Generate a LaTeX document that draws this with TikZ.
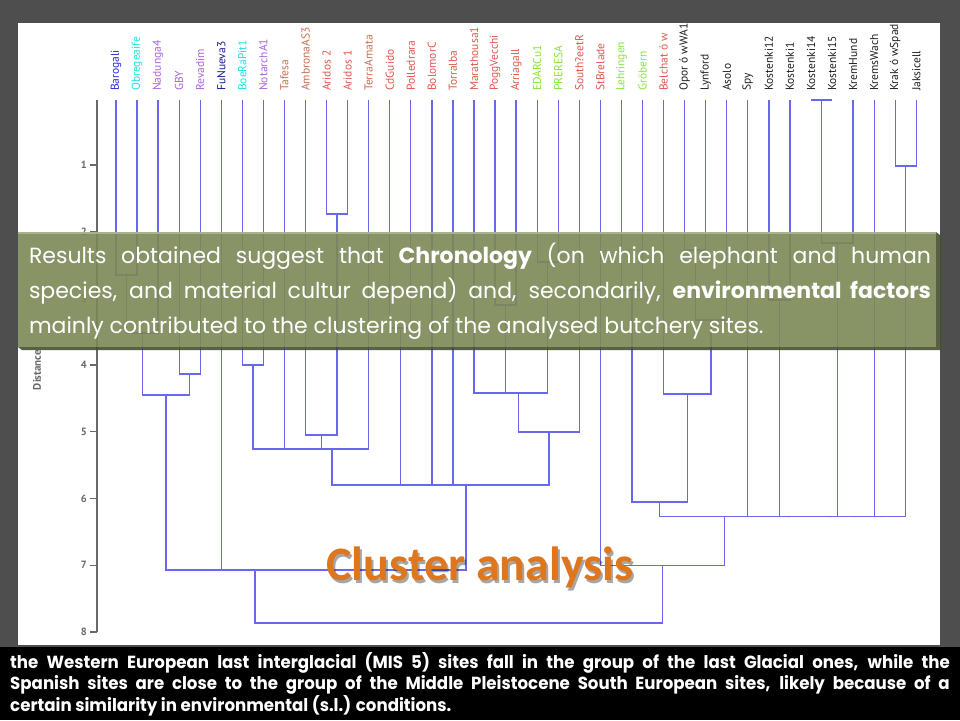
\documentclass[tikz,border=0pt]{standalone}
\usepackage{fontspec}
\usetikzlibrary{calc}
\setmainfont{Poppins}
\newfontfamily\labelfont{PT Sans}
\newfontfamily\titlefont{Carlito}

\definecolor{slidegrey}{RGB}{78,78,78}
\definecolor{axisgrey}{RGB}{105,105,105}
\definecolor{linkblue}{RGB}{104,104,238}
\definecolor{boxgreen}{RGB}{124,137,86}
\definecolor{boxlight}{RGB}{170,178,140}
\definecolor{boxshade}{RGB}{70,78,48}
\definecolor{titleorange}{RGB}{222,118,30}
\definecolor{lblblue}{RGB}{40,40,225}
\definecolor{lblnavy}{RGB}{25,25,150}
\definecolor{lblcyan}{RGB}{30,225,230}
\definecolor{lblpurple}{RGB}{170,100,225}
\definecolor{lblbrown}{RGB}{200,112,82}
\definecolor{lblred}{RGB}{222,88,78}
\definecolor{lblgreen}{RGB}{135,228,60}
\definecolor{lblblack}{RGB}{30,30,30}

\tikzset{
  link/.style={draw=linkblue, line width=1.3pt, line join=miter},
  sitelabel/.style={rotate=90, anchor=west, inner sep=0pt, font=\labelfont\fontsize{11.5}{11.5}\selectfont},
  tickmark/.style={draw=axisgrey, line width=1.3pt},
  ticklabel/.style={anchor=east, inner sep=0pt, text=axisgrey, font=\labelfont\bfseries\fontsize{10.5}{10.5}\selectfont},
}

% one merge of the dendrogram: name, left child, right child, height
\newcommand{\clade}[4]{%
  \draw[link] (#2) -- (#2 |- 0,#4) -- (#3 |- 0,#4) -- (#3);
  \coordinate (#1) at ($(#2 |- 0,#4)!0.5!(#3 |- 0,#4)$);
}

\begin{document}
\begin{tikzpicture}[x=1pt, y=-1pt]

  \useasboundingbox (0,0) rectangle (960,720);

  % Slide:
  \fill[slidegrey] (0,0) rectangle (960,720);
  \fill[white]     (18,23) rectangle (940,645);

  % Site labels and leaves:
  \foreach \site/\col [count=\i from 0] in {
      Barogali/lblblue, Obregeaife/lblcyan, Nadunga4/lblpurple, GBY/lblpurple,
      Revadim/lblpurple, FuNueva3/lblnavy, BoeRaPit1/lblcyan, NotarchA1/lblpurple,
      Tafesa/lblbrown, AmbronaAS3/lblbrown, Aridos 2/lblred, Aridos 1/lblred,
      TerraAmata/lblbrown, CdGuido/lblred, Polledrara/lblred, BolomorC/lblred,
      Torralba/lblred, Marathousa1/lblred, PoggVecchi/lblred, Arriagall/lblred,
      EDARCu1/lblgreen, PRERESA/lblgreen, South?eetR/lblred, StBrelade/lblred,
      Lehringen/lblgreen, Gröbern/lblgreen, Belchat ó w/lblred, Opor ó wWA1/lblblack,
      Lynford/lblblack, Asolo/lblblack, Spy/lblblack, Kostenki12/lblblack,
      Kostenki1/lblblack, Kostenki14/lblblack, Kostenki15/lblblack, KremHund/lblblack,
      KremsWach/lblblack, Krak ó wSpad/lblblack, Jaksicell/lblblack}
  {
    \coordinate (s\i) at ({116+21.06*\i},100);
    \node[sitelabel, text=\col] (n\i) at ({116+21.06*\i},91) {\site};
  }

  % Axis:
  \draw[tickmark] (97,100) -- (97,632);
  \foreach \d in {1,...,8} {
    \draw[tickmark] (90,{98.3+66.7*\d}) -- (97,{98.3+66.7*\d});
    \node[ticklabel] (t\d) at (87,{98.3+66.7*\d}) {\d};
  }
  \node[rotate=90, text=axisgrey, font=\labelfont\bfseries\fontsize{11}{11}\selectfont] (dist) at (37,370) {Distance};

  % Left cluster
  \clade{a}{s0}{s1}{275}
  \clade{b}{a}{s2}{333}
  \clade{c}{s3}{s4}{374}
  \clade{bc}{b}{c}{395}
  \clade{e}{s6}{s7}{365}
  \clade{f}{s10}{s11}{214}
  \clade{g}{s9}{f}{435}
  \clade{h1}{e}{s8}{449}
  \clade{h2}{h1}{g}{449}
  \clade{h}{h2}{s12}{449}
  \clade{i}{s13}{s14}{328}
  \clade{j}{s18}{s19}{305}
  \clade{k}{s20}{s21}{262}
  \clade{m1}{s17}{j}{393}
  \clade{m}{m1}{k}{393}
  \clade{nn}{m}{s22}{432}
  \clade{o1}{i}{s15}{485}
  \clade{o2}{o1}{s16}{485}
  \clade{o3}{h}{o2}{485}
  \clade{o}{o3}{nn}{485}
  \clade{p1}{s5}{o}{570}
  \clade{p}{bc}{p1}{570}

  % Right cluster
  \clade{q}{s24}{s25}{290}
  \clade{r}{s27}{s28}{250}
  \clade{r2}{r}{s29}{320}
  \clade{t}{s26}{r2}{394}
  \clade{u}{q}{t}{502}
  \clade{v}{s31}{s32}{300}
  \clade{w}{s33}{s34}{100}
  \clade{x}{w}{s35}{243}
  \clade{y}{s37}{s38}{166}
  \clade{z1}{x}{s36}{516.7}
  \clade{z2}{z1}{y}{516.7}
  \clade{z3}{v}{z2}{516.7}
  \clade{z4}{s30}{z3}{516.7}
  \clade{z}{u}{z4}{516.7}
  \clade{aa}{s23}{z}{565.7}

  % Root
  \clade{root}{p}{aa}{623}

  % Title
  \node[text=black, opacity=0.35, font=\titlefont\bfseries\fontsize{48}{48}\selectfont] at (482,570) {Cluster analysis};
  \node[text=titleorange, font=\titlefont\bfseries\fontsize{48}{48}\selectfont] (title) at (480,567) {Cluster analysis};

  % Green box
  \fill[boxgreen, fill opacity=0.9] (18,232) rectangle (936,347);
  \fill[boxshade, fill opacity=0.9] (936,232) -- (941,236) -- (941,350) -- (22,350) -- (18,347) -- (936,347) -- cycle;
  \draw[boxlight, line width=1.5pt] (18,233) -- (936,233);
  \node[text=white, text width=902pt, align=justify, inner sep=0pt,
        font=\fontsize{22}{35}\selectfont] (results) at (480,291)
    {\tolerance=10000\hbadness=10000 Results obtained suggest that \textbf{Chronology} (on which elephant and human\linebreak
     species, and material cultur depend) and, secondarily, \textbf{environmental factors}\linebreak
     mainly contributed to the clustering of the analysed butchery sites.};

  % Bottom band
  \fill[black] (0,647) rectangle (960,720);
  \draw[slidegrey, line width=2pt] (0,646) -- (960,646);
  \node[text=white, text width=989pt, align=justify, inner sep=0pt, xscale=0.95, transform shape,
        font=\bfseries\fontsize{17.5}{21.5}\selectfont] (note) at (480,684)
    {\tolerance=10000\hbadness=10000 the Western European last interglacial (MIS 5) sites fall in the group of the last Glacial ones, while the\linebreak
     Spanish sites are close to the group of the Middle Pleistocene South European sites, likely because of a\linebreak
     certain similarity in environmental (s.l.) conditions.};

\end{tikzpicture}
\end{document}
